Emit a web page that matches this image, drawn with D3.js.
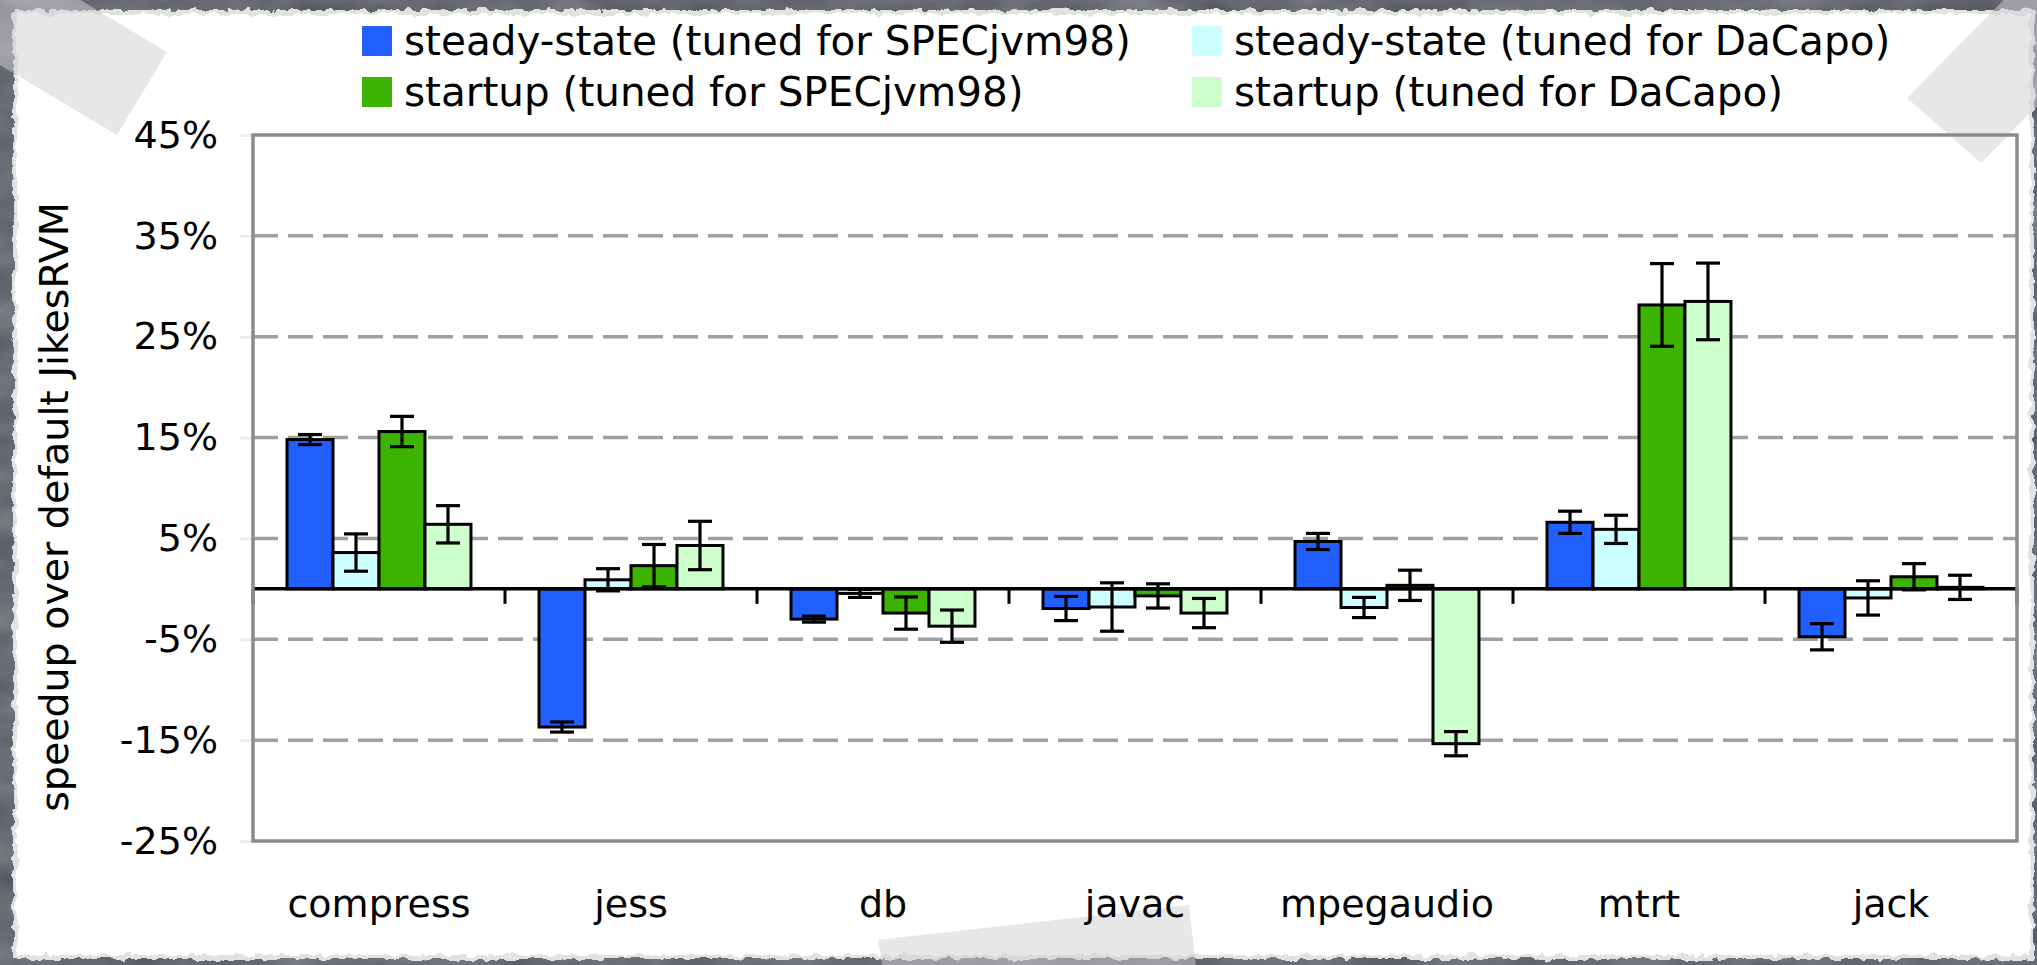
<!DOCTYPE html>
<html>
<head>
<meta charset="utf-8">
<script src="https://cdn.jsdelivr.net/npm/d3@7/dist/d3.min.js"></script>
<style>
  html, body { margin: 0; padding: 0; background: #4f525b; overflow: hidden; }
  svg { display: block; }
  text { font-family: "DejaVu Sans", Verdana, sans-serif; fill: #000; }
</style>
</head>
<body>
<svg id="chart" width="2037" height="965"></svg>
<script>
// ---- data -------------------------------------------------------------
const categories = ["compress", "jess", "db", "javac", "mpegaudio", "mtrt", "jack"];
const seriesNames = [
  "steady-state (tuned for SPECjvm98)",
  "steady-state (tuned for DaCapo)",
  "startup (tuned for SPECjvm98)",
  "startup (tuned for DaCapo)"
];
// speedup in percent, with error half-widths
const steadySpec        = [14.8, -13.7, -3.0, -1.95,  4.7,   6.6,  -4.75];
const steadySpecErr     = [0.5,    0.5,  0.3,  1.2,   0.8,   1.1,   1.3];
const steadyDacapo      = [3.6,    0.9, -0.45, -1.8, -1.85,  5.9,  -0.9];
const steadyDacapoErr   = [1.85,   1.1,  0.4,  2.4,   1.0,   1.4,   1.7];
const startupSpec       = [15.6,   2.3, -2.4, -0.7,   0.35, 28.15,  1.2];
const startupSpecErr    = [1.5,    2.1,  1.6,  1.2,   1.5,   4.1,   1.3];
const startupDacapo     = [6.4,    4.3, -3.7, -2.4, -15.35, 28.5,   0.15];
const startupDacapoErr  = [1.85,   2.4,  1.6,  1.45,  1.2,   3.8,   1.2];
const yTicks = [-25, -15, -5, 5, 15, 25, 35, 45];
const yTitle = "speedup over default JikesRVM";
const seriesColors = ["#2160ff", "#ccffff", "#3cb300", "#ccffcc"];

const seriesValues = [steadySpec, steadyDacapo, startupSpec, startupDacapo];
const seriesErrors = [steadySpecErr, steadyDacapoErr, startupSpecErr, startupDacapoErr];

// ---- setup ------------------------------------------------------------
const W = 2037, H = 965;
const plot = { left: 253, right: 2017, top: 135, bottom: 841 };
const svg = d3.select("#chart");
const defs = svg.append("defs");

// slate texture behind the sheet
const grain = defs.append("filter").attr("id", "grain").attr("x", 0).attr("y", 0).attr("width", 1).attr("height", 1);
grain.append("feTurbulence").attr("type", "fractalNoise").attr("baseFrequency", "0.012 0.03").attr("numOctaves", 4).attr("seed", 7);
grain.append("feColorMatrix").attr("type", "matrix")
  .attr("values", "0 0 0 0 0.85  0 0 0 0 0.86  0 0 0 0 0.9  0 0 0 0.35 0");
grain.append("feComposite").attr("in2", "SourceGraphic").attr("operator", "in");

// torn paper edge
const torn = defs.append("filter").attr("id", "torn").attr("x", -0.02).attr("y", -0.02).attr("width", 1.04).attr("height", 1.04);
torn.append("feTurbulence").attr("type", "fractalNoise").attr("baseFrequency", 0.09).attr("numOctaves", 3).attr("seed", 3).attr("result", "n");
torn.append("feDisplacementMap").attr("in", "SourceGraphic").attr("in2", "n").attr("scale", 9)
  .attr("xChannelSelector", "R").attr("yChannelSelector", "G");

svg.append("rect").attr("width", W).attr("height", H).attr("fill", "#4d5059");
svg.append("rect").attr("width", W).attr("height", H).attr("fill", "#4d5059").attr("filter", "url(#grain)");

// sheet of paper
svg.append("rect").attr("x", 13).attr("y", 10).attr("width", 2021).attr("height", 949)
  .attr("fill", "#e2e2e2").attr("filter", "url(#torn)");
svg.append("rect").attr("x", 17).attr("y", 14).attr("width", 2013).attr("height", 941)
  .attr("fill", "#ffffff").attr("filter", "url(#torn)");

// tape strips
const tapes = [
  [[167, 52], [117, 135], [-55, 32], [-5, -51]],
  [[1907, 98], [1981, 163], [2131, 11], [2057, -54]],
  [[878, 940], [1189, 905], [1197, 975], [884, 975]]
];
svg.append("g").selectAll("polygon").data(tapes).join("polygon")
  .attr("points", d => d.map(p => p.join(",")).join(" "))
  .attr("fill", "#d0d0d2").attr("fill-opacity", 0.5);

// ---- scales -----------------------------------------------------------
const y = d3.scaleLinear().domain([-25, 45]).range([plot.bottom, plot.top]);
const x0 = d3.scaleBand().domain(categories).range([plot.left, plot.right]);
const x1 = d3.scaleBand().domain(d3.range(seriesNames.length)).range([0, x0.bandwidth()]).paddingOuter(0.74);

const rows = [];
categories.forEach((c, i) => {
  seriesValues.forEach((vals, s) => {
    rows.push({ cat: c, s, value: vals[i], err: seriesErrors[s][i] });
  });
});

const g = svg.append("g");

// y axis: faint outer ticks and labels
const yAxis = g.append("g").attr("transform", `translate(${plot.left},0)`)
  .call(d3.axisLeft(y).tickValues(yTicks).tickSize(13).tickPadding(22).tickFormat(d => d + "%"));
yAxis.select(".domain").remove();
yAxis.selectAll(".tick line").attr("stroke", "#ececec").attr("stroke-width", 3);
yAxis.selectAll(".tick text").attr("font-size", 38).attr("font-family", "DejaVu Sans, Verdana, sans-serif").attr("fill", "#000");

// dashed gridlines
g.append("g").selectAll("line").data(yTicks.filter(v => v > -25 && v < 45)).join("line")
  .attr("x1", plot.left).attr("x2", plot.right)
  .attr("y1", d => y(d)).attr("y2", d => y(d))
  .attr("stroke", "#a0a0a0").attr("stroke-width", 3.5).attr("stroke-dasharray", "25 10");

// bars
g.append("g").selectAll("rect").data(rows).join("rect")
  .attr("x", d => x0(d.cat) + x1(d.s))
  .attr("width", x1.bandwidth())
  .attr("y", d => y(Math.max(0, d.value)))
  .attr("height", d => Math.abs(y(d.value) - y(0)))
  .attr("fill", d => seriesColors[d.s])
  .attr("stroke", "#000").attr("stroke-width", 3);

// zero axis with category separators
g.append("line").attr("x1", plot.left).attr("x2", plot.right).attr("y1", y(0)).attr("y2", y(0))
  .attr("stroke", "#000").attr("stroke-width", 3.5);
g.append("g").selectAll("line").data(d3.range(categories.length + 1)).join("line")
  .attr("x1", i => plot.left + i * x0.step()).attr("x2", i => plot.left + i * x0.step())
  .attr("y1", y(0)).attr("y2", y(0) + 15)
  .attr("stroke", "#000").attr("stroke-width", 3);

// plot frame
g.append("rect").attr("x", plot.left).attr("y", plot.top)
  .attr("width", plot.right - plot.left).attr("height", plot.bottom - plot.top)
  .attr("fill", "none").attr("stroke", "#8a8a8a").attr("stroke-width", 3.5);

// error bars
const eb = g.append("g").attr("stroke", "#000").attr("stroke-width", 3.2);
rows.forEach(d => {
  const cx = x0(d.cat) + x1(d.s) + x1.bandwidth() / 2;
  const y1 = y(d.value + d.err), y2 = y(d.value - d.err);
  eb.append("line").attr("x1", cx).attr("x2", cx).attr("y1", y1).attr("y2", y2);
  eb.append("line").attr("x1", cx - 12).attr("x2", cx + 12).attr("y1", y1).attr("y2", y1);
  eb.append("line").attr("x1", cx - 12).attr("x2", cx + 12).attr("y1", y2).attr("y2", y2);
});

// category labels
g.append("g").selectAll("text").data(categories).join("text")
  .attr("x", d => x0(d) + x0.bandwidth() / 2)
  .attr("y", 917)
  .attr("text-anchor", "middle")
  .attr("font-size", 38)
  .text(d => d);

// y title
g.append("text")
  .attr("transform", "translate(68,507) rotate(-90)")
  .attr("text-anchor", "middle")
  .attr("font-size", 39.5)
  .text(yTitle);

// legend: two columns, two rows
const legendCols = [362, 1192];
const legendRows = [26, 77];
const lg = g.append("g");
seriesNames.forEach((name, s) => {
  const cx = legendCols[s % 2], ry = legendRows[Math.floor(s / 2)];
  lg.append("rect").attr("x", cx).attr("y", ry).attr("width", 30).attr("height", 30)
    .attr("fill", seriesColors[s]);
  lg.append("text").attr("x", cx + 42).attr("y", ry + 29).attr("font-size", 40.5).text(name);
});
</script>
</body>
</html>
